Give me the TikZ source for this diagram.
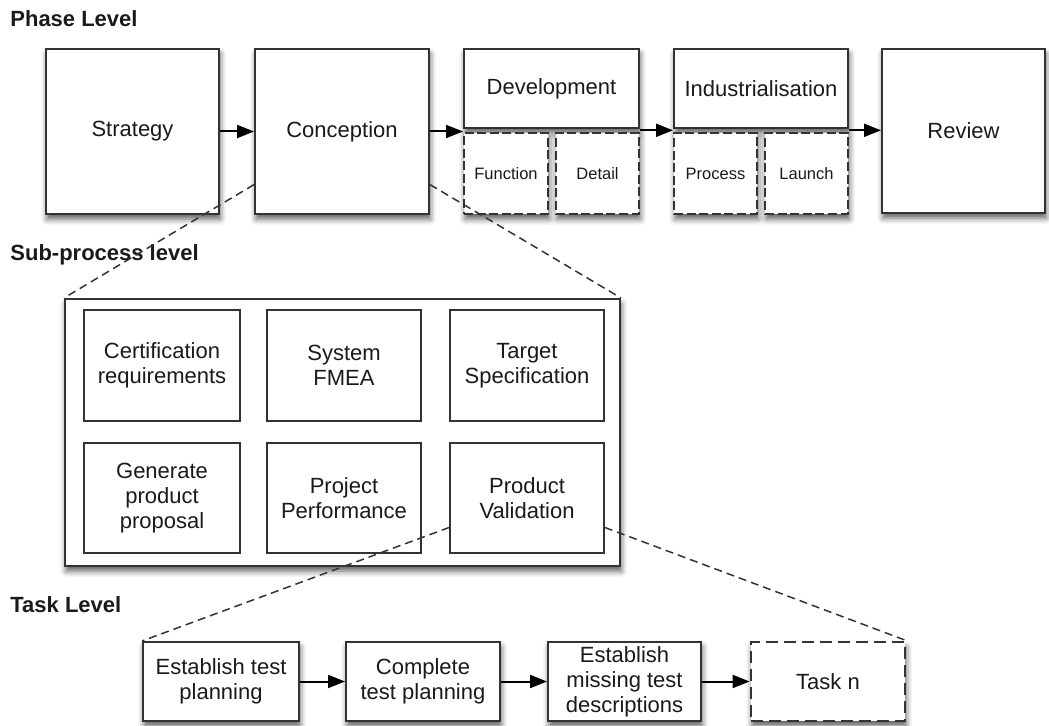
\documentclass[tikz,border=0pt]{standalone}
\usepackage{fontspec}
\setmainfont{Liberation Sans}
\usetikzlibrary{arrows.meta,calc,shadows.blur}
\definecolor{edge}{HTML}{333333}
\definecolor{txt}{HTML}{1A1A1A}
\begin{document}
\begin{tikzpicture}[x=0.5pt,y=-0.5pt,
  shade/.style={blur shadow={shadow xshift=0.6pt, shadow yshift=-2.5pt, shadow blur radius=3pt, shadow opacity=65}},
  box/.style={draw=edge, fill=white, line width=1pt, text=txt, align=center, inner sep=0pt,
    font=\fontsize{11}{12.5}\selectfont, shade},
  dbox/.style={box, line width=1.4pt, dash pattern=on 4.5pt off 1.8pt, font=\fontsize{8.25}{10}\selectfont},
  tbox/.style={box, line width=1.4pt, dash pattern=on 6pt off 3pt},
  inbox/.style={draw=edge, fill=white, line width=0.8pt, text=txt, align=center, inner sep=0pt,
    font=\fontsize{11}{12.5}\selectfont},
  lvl/.style={anchor=base west, inner sep=0pt, text=txt, font=\bfseries\fontsize{11}{13}\selectfont},
  arr/.style={-{Triangle[length=8.5pt,width=6.5pt]}, line width=1pt, black},
  conn/.style={line width=0.75pt, draw=edge, dash pattern=on 4pt off 2.5pt}
]
\useasboundingbox (0,0) rectangle (1049,726);

% Phase level
\node[lvl] (phase) at (10,27) {Phase Level};
\node[box, minimum width=86.5pt, minimum height=82.5pt] (strategy) at (132.5,131.5) {Strategy};
\node[box, minimum width=87pt, minimum height=82.5pt] (conception) at (342,131.5) {Conception};
\node[box, minimum width=87.5pt, minimum height=39.5pt] (development) at (551.5,88.5) {Development};
\node[dbox, minimum width=42pt, minimum height=40.5pt] (function) at (506,173.5) {Function};
\node[dbox, minimum width=41.5pt, minimum height=40.5pt] (detail) at (597.5,173.5) {Detail};
\node[box, minimum width=87pt, minimum height=39.5pt] (industrialisation) at (761,88.5) {Industrialisation};
\node[dbox, minimum width=41.5pt, minimum height=40.5pt] (process) at (715.5,173.5) {Process};
\node[dbox, minimum width=41.5pt, minimum height=40.5pt] (launch) at (806.5,173.5) {Launch};
\node[box, minimum width=81.5pt, minimum height=82pt] (review) at (963.5,131) {Review};

\draw[arr] (strategy.east) -- (conception.west);
\draw[arr] (conception.east) -- (conception.east -| development.west);
\coordinate (devout) at ($(development.south east)!0.5!(detail.north east)$);
\draw[arr] (devout) -- (devout -| industrialisation.west);
\coordinate (indout) at ($(industrialisation.south east)!0.5!(launch.north east)$);
\draw[arr] (indout) -- (indout -| review.west);

% Sub-process level
\node[lvl] (sub) at (10,261) {Sub-process level};
\node[box, minimum width=277.5pt, minimum height=133.5pt] (container) at (342.5,432.5) {};
\node[inbox, minimum width=78pt, minimum height=55.5pt] (cert) at (162,365.5) {Certification\\requirements};
\node[inbox, minimum width=77pt, minimum height=55.5pt] (fmea) at (344,365.5) {System\\FMEA};
\node[inbox, minimum width=77pt, minimum height=55.5pt] (target) at (527,365.5) {Target\\Specification};
\node[inbox, minimum width=78pt, minimum height=55pt] (generate) at (162,498) {Generate\\product\\proposal};
\node[inbox, minimum width=77pt, minimum height=55pt] (perf) at (344,498) {Project\\Performance};
\node[inbox, minimum width=77pt, minimum height=55pt] (valid) at (527,498) {Product\\Validation};

% Task level
\node[lvl] (task) at (10,612) {Task Level};
\node[box, minimum width=78pt, minimum height=39.5pt] (t1) at (221,681.5) {Establish test\\planning};
\node[box, minimum width=77pt, minimum height=39.5pt] (t2) at (423,681.5) {Complete\\test planning};
\node[box, minimum width=76.5pt, minimum height=39.5pt] (t3) at (624.5,681.5) {Establish\\missing test\\descriptions};
\node[tbox, minimum width=77pt, minimum height=39.5pt] (t4) at (828,681.5) {Task n};
\draw[arr] (t1.east) -- (t2.west);
\draw[arr] (t2.east) -- (t3.west);
\draw[arr] (t3.east) -- (t4.west);

% zoom connectors
\coordinate (cl) at ($(conception.north west)!0.818!(conception.south west)$);
\coordinate (cr) at ($(conception.north east)!0.818!(conception.south east)$);
\draw[conn] (cl) -- (container.north west);
\draw[conn] (cr) -- (container.north east);
\coordinate (vl) at ($(valid.north west)!0.764!(valid.south west)$);
\coordinate (vr) at ($(valid.north east)!0.764!(valid.south east)$);
\draw[conn] (vl) -- (t1.north west);
\draw[conn] (vr) -- (t4.north east);
\end{tikzpicture}
\end{document}
